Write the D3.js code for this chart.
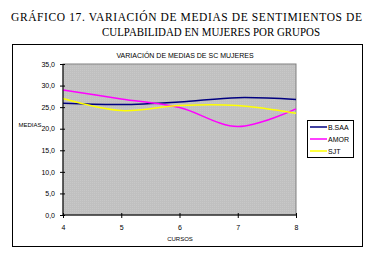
<!DOCTYPE html>
<html>
<head>
<meta charset="utf-8">
<script src="https://cdn.jsdelivr.net/npm/d3@7"></script>
<style>
  body { margin: 0; background: #fff; }
  svg { display: block; }
  .axis path, .axis line { stroke: #000; }
  .axis text { font-family: Arial, "Liberation Sans", sans-serif; font-size: 7px; fill: #000; }
</style>
</head>
<body>
<div id="chart"></div>
<script>
const cursos = [4, 5, 6, 7, 8];
const bsaa = [25.9, 25.6, 26.2, 27.2, 26.8];
const amor = [29.0, 26.9, 24.9, 20.5, 24.6];
const sjt = [27.0, 24.2, 25.4, 25.4, 23.6];
const yTicks = [0, 5, 10, 15, 20, 25, 30, 35];

const series = [
    {name: 'B.SAA', values: bsaa, color: '#000080'},
    {name: 'AMOR', values: amor, color: '#FF00FF'},
    {name: 'SJT', values: sjt, color: '#FFFF00'}
];

const width = 370, height = 259;
const plot = {left: 63, right: 296, top: 64, bottom: 215};

const svg = d3.select('#chart').append('svg')
    .attr('width', width)
    .attr('height', height);

// heading above the frame
const head = svg.append('g')
    .style('font-family', '"Liberation Serif", "Times New Roman", serif')
    .style('font-size', '11.5px');
head.append('text')
    .attr('x', 11).attr('y', 21)
    .attr('textLength', 351)
    .attr('lengthAdjust', 'spacing')
    .text('GRÁFICO 17. VARIACIÓN DE MEDIAS DE SENTIMIENTOS DE');
head.append('text')
    .attr('x', 102).attr('y', 36)
    .attr('textLength', 218)
    .attr('lengthAdjust', 'spacingAndGlyphs')
    .text('CULPABILIDAD EN MUJERES POR GRUPOS');

// outer chart frame
svg.append('rect')
    .attr('x', 12.5).attr('y', 44.5)
    .attr('width', 350).attr('height', 202)
    .attr('fill', '#fff')
    .attr('stroke', '#000')
    .attr('stroke-width', 1);

// dotted texture for plot area
const defs = svg.append('defs');
const pat = defs.append('pattern')
    .attr('id', 'dots')
    .attr('width', 2).attr('height', 2)
    .attr('patternUnits', 'userSpaceOnUse');
pat.append('rect').attr('width', 2).attr('height', 2).attr('fill', '#C0C0C0');
pat.append('rect').attr('width', 1).attr('height', 1).attr('fill', '#C8C8C8');

const x = d3.scaleLinear().domain([4, 8]).range([plot.left, plot.right]);
const y = d3.scaleLinear().domain([0, 35]).range([plot.bottom, plot.top]);

svg.append('rect')
    .attr('x', plot.left).attr('y', plot.top)
    .attr('width', plot.right - plot.left)
    .attr('height', plot.bottom - plot.top)
    .attr('fill', 'url(#dots)')
    .attr('stroke', '#808080')
    .attr('stroke-width', 1);

svg.append('text')
    .attr('x', 185).attr('y', 58)
    .attr('text-anchor', 'middle')
    .style('font-family', 'Arial, "Liberation Sans", sans-serif')
    .style('font-size', '7px')
    .text('VARIACIÓN DE MEDIAS DE SC MUJERES');

const line = d3.line()
    .curve(d3.curveCardinal.tension(0))
    .x((d, i) => x(cursos[i]))
    .y(d => y(d));

svg.selectAll('.serie')
    .data(series)
    .enter()
    .append('path')
    .attr('class', 'serie')
    .attr('fill', 'none')
    .attr('stroke', d => d.color)
    .attr('stroke-width', 1.5)
    .attr('d', d => line(d.values));

const fmt = d => d.toFixed(1).replace('.', ',');

const yAxis = svg.append('g')
    .attr('class', 'axis')
    .attr('transform', `translate(${plot.left},0)`)
    .call(d3.axisLeft(y).tickValues(yTicks).tickFormat(fmt).tickSize(4).tickPadding(4));
yAxis.selectAll('.tick line').attr('x2', -3).attr('x1', 2);

const xAxis = svg.append('g')
    .attr('class', 'axis')
    .attr('transform', `translate(0,${plot.bottom})`)
    .call(d3.axisBottom(x).tickValues(cursos).tickFormat(d3.format('d')).tickSize(3).tickPadding(7));
xAxis.selectAll('.tick line').attr('y1', -2).attr('y2', 3);
xAxis.select('.domain').attr('d', `M${plot.left},0H${plot.right}`);
yAxis.select('.domain').attr('d', `M0,${plot.top}V${plot.bottom}`);

svg.append('text')
    .attr('x', 30).attr('y', 127)
    .attr('text-anchor', 'middle')
    .style('font-family', 'Arial, "Liberation Sans", sans-serif')
    .style('font-size', '6px')
    .text('MEDIAS');

svg.append('text')
    .attr('x', 180).attr('y', 241)
    .attr('text-anchor', 'middle')
    .style('font-family', 'Arial, "Liberation Sans", sans-serif')
    .style('font-size', '6px')
    .text('CURSOS');

// legend
const legend = svg.append('g').attr('transform', 'translate(307,120)');
legend.append('rect')
    .attr('x', 0.5).attr('y', 0.5)
    .attr('width', 46).attr('height', 37)
    .attr('fill', '#fff')
    .attr('stroke', '#000');

const items = legend.selectAll('.item')
    .data(series)
    .enter()
    .append('g')
    .attr('class', 'item')
    .attr('transform', (d, i) => `translate(0,${7 + i * 12})`);
items.append('line')
    .attr('x1', 3).attr('x2', 20)
    .attr('y1', 0).attr('y2', 0)
    .attr('stroke', d => d.color)
    .attr('stroke-width', 1.5);
items.append('text')
    .attr('x', 21).attr('y', 2.5)
    .style('font-family', 'Arial, "Liberation Sans", sans-serif')
    .style('font-size', '7px')
    .text(d => d.name);
</script>
</body>
</html>
